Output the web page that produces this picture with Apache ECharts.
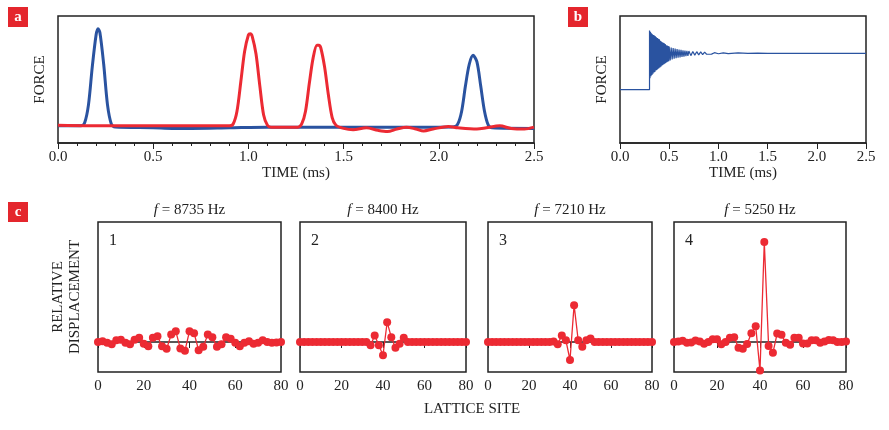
<!DOCTYPE html>
<html><head><meta charset="utf-8">
<script src="https://cdn.jsdelivr.net/npm/echarts@6/dist/echarts.min.js"></script>
<style>html,body{margin:0;padding:0;background:#fff}#c{width:889px;height:430px}</style>
</head><body><div id="c"></div>
<script>
// Panel a: force vs time (ms), arbitrary units
const blueA = [[0,13.5],[0.12,13.5],[0.14,16],[0.16,30],[0.18,60],[0.2,85],[0.21,90],[0.22,87],[0.24,62],[0.26,30],[0.28,15],[0.3,12.5],[0.5,12],[0.6,11.5],[0.7,11.5],[0.9,12],[1.1,12.5],[1.5,12.5],[2.0,12.5],[2.08,12.8],[2.1,15],[2.12,25],[2.14,45],[2.16,62],[2.18,69],[2.2,64],[2.22,45],[2.24,25],[2.26,14],[2.28,12],[2.5,11.5]];
const redA = [[0,14],[0.3,13.5],[0.9,13.5],[0.92,15],[0.94,25],[0.96,48],[0.98,72],[1.0,85],[1.01,86],[1.02,84],[1.04,70],[1.06,45],[1.08,22],[1.1,14],[1.12,12.5],[1.26,12.5],[1.28,15],[1.3,25],[1.32,47],[1.34,67],[1.36,77],[1.37,77],[1.38,75],[1.4,60],[1.42,38],[1.44,20],[1.46,14],[1.5,11.5],[1.55,10.5],[1.62,12],[1.68,10],[1.73,9],[1.78,11],[1.83,12.5],[1.88,11],[1.92,9.5],[1.97,11],[2.05,13],[2.1,12],[2.2,11],[2.25,12],[2.32,13.5],[2.38,11.5],[2.45,11],[2.5,12.5]];
// Panel b: step response
const blueB = [[0,42],[0.3,42],[0.3,88.6],[0.305,51],[0.31,87.5],[0.315,52.5],[0.32,86.5],[0.325,53.5],[0.33,85.7],[0.335,54.5],[0.34,85],[0.345,55.5],[0.35,84.6],[0.355,56],[0.36,84],[0.365,57],[0.37,83.3],[0.375,57.5],[0.38,82.6],[0.385,58.3],[0.39,82],[0.395,58.8],[0.40,81.6],[0.405,59.5],[0.41,80.5],[0.415,60],[0.42,80],[0.425,60.8],[0.43,79.3],[0.435,61.5],[0.44,79],[0.445,62],[0.45,78.6],[0.455,62.4],[0.46,78],[0.465,63],[0.47,77],[0.475,63.5],[0.48,76.8],[0.485,64],[0.49,76.4],[0.495,64.3],[0.50,76],[0.51,65],[0.52,75.2],[0.53,65.8],[0.54,74.8],[0.55,66.3],[0.56,74.3],[0.57,66.8],[0.58,74],[0.59,67.2],[0.60,73.6],[0.61,67.4],[0.62,73.3],[0.63,67.8],[0.64,73],[0.65,68],[0.66,72.8],[0.67,68.3],[0.68,72.6],[0.69,68.5],[0.70,72.4],[0.72,68.8],[0.74,72.1],[0.76,69.2],[0.78,71.9],[0.80,69.4],[0.82,71.7],[0.84,69.6],[0.86,71.5],[0.88,69.9],[0.90,71.3],[0.93,70],[0.96,71.1],[1.0,70.3],[1.05,71],[1.1,70.4],[1.2,70.9],[1.3,70.5],[1.4,70.8],[1.5,70.6],[2.5,70.6]];
// Panel c: relative displacement at even lattice sites 0..80
const sites = [0,2,4,6,8,10,12,14,16,18,20,22,24,26,28,30,32,34,36,38,40,42,44,46,48,50,52,54,56,58,60,62,64,66,68,70,72,74,76,78,80];
const mode1 = [0,0.03,-0.03,-0.08,0.06,0.08,-0.03,-0.08,0.08,0.15,-0.06,-0.15,0.15,0.2,-0.15,-0.24,0.26,0.38,-0.23,-0.31,0.38,0.31,-0.29,-0.17,0.26,0.17,-0.17,-0.08,0.17,0.11,-0.03,-0.15,-0.03,0.03,-0.06,-0.03,0.06,0,-0.03,-0.02,0];
const mode2 = [0,0,0,0,0,0,0,0,0,0,0,0,0,0,0,0,0,-0.11,0.23,-0.11,-0.46,0.69,0.17,-0.2,-0.06,0.15,0,0,0,0,0,0,0,0,0,0,0,0,0,0,0];
const mode3 = [0,0,0,0,0,0,0,0,0,0,0,0,0,0,0,0,0.02,-0.08,0.23,0.06,-0.63,1.29,0.06,-0.17,0.06,0.12,0,0,0,0,0,0,0,0,0,0,0,0,0,0,0];
const mode4 = [0,0.02,0.04,-0.03,-0.02,0.05,0.02,-0.06,0,0.1,0.1,-0.08,0,0.15,0.17,-0.2,-0.24,-0.07,0.31,0.55,-1,3.5,-0.14,-0.38,0.3,0.25,-0.03,-0.1,0.15,0.15,-0.05,-0.05,0.06,0.06,-0.03,0.02,0.07,0.06,0,0,0.02];
const modes = [mode1, mode2, mode3, mode4];
const freqs = ['8735', '8400', '7210', '5250'];
const timeTicks = [0, 2.5, 0.5];
const siteTicks = [0, 80, 20];

const FONT = 'Liberation Serif';
const BLUE = '#2a53a0', RED = '#ec2a33', INK = '#222';
const chart = echarts.init(document.getElementById('c'));
const cGrids = [[98,183],[300,166],[488,164],[674,172]];
const grids = [
  {left:58, top:16, width:476, height:127},
  {left:620, top:16, width:246, height:127}
].concat(cGrids.map(g => ({left:g[0], top:222, width:g[1], height:150})));
grids.forEach(g => {g.show = true; g.borderColor = INK; g.borderWidth = 1.5; g.backgroundColor = 'transparent';});
const lbl = {fontFamily:FONT, fontSize:15, color:INK};
function timeAxis(i, minor) {
  return {type:'value', gridIndex:i, min:timeTicks[0], max:timeTicks[1], interval:timeTicks[2],
    name:'TIME (ms)', nameLocation:'middle', nameGap:22, nameTextStyle:lbl,
    axisLine:{lineStyle:{color:INK, width:1.5}}, axisTick:{length:6, lineStyle:{color:INK}},
    minorTick:{show:minor, splitNumber:5, length:3, lineStyle:{color:INK}},
    axisLabel:Object.assign({formatter:v => v.toFixed(1), margin:7}, lbl), splitLine:{show:false}};
}
const xAxes = [timeAxis(0, true), timeAxis(1, false)];
const yAxes = [
  {type:'value', gridIndex:0, min:0, max:100, show:true, name:'FORCE', nameLocation:'middle', nameGap:10, nameTextStyle:lbl, axisLine:{show:false}, axisTick:{show:false}, axisLabel:{show:false}, splitLine:{show:false}},
  {type:'value', gridIndex:1, min:0, max:100, show:true, name:'FORCE', nameLocation:'middle', nameGap:10, nameTextStyle:lbl, axisLine:{show:false}, axisTick:{show:false}, axisLabel:{show:false}, splitLine:{show:false}}
];
const series = [
  {type:'line', xAxisIndex:0, yAxisIndex:0, data:blueA, showSymbol:false, lineStyle:{color:BLUE, width:3}, smooth:0.3},
  {type:'line', xAxisIndex:0, yAxisIndex:0, data:redA, showSymbol:false, lineStyle:{color:RED, width:3}, smooth:0.3},
  {type:'line', xAxisIndex:1, yAxisIndex:1, data:blueB, showSymbol:false, lineStyle:{color:BLUE, width:1.2}}
];
modes.forEach((m, k) => {
  const gi = k + 2;
  xAxes.push({type:'value', gridIndex:gi, min:siteTicks[0], max:siteTicks[1], interval:siteTicks[2],
    axisLine:{lineStyle:{color:INK, width:1.5}}, axisTick:{length:6, lineStyle:{color:INK}},
    axisLabel:Object.assign({margin:7}, lbl), splitLine:{show:false}});
  yAxes.push({type:'value', gridIndex:gi, min:-1.05, max:4.2, show:false, splitLine:{show:false}});
  series.push({type:'line', xAxisIndex:gi, yAxisIndex:gi, data:sites.map((s, j) => [s, m[j]]),
    symbol:'circle', symbolSize:8, itemStyle:{color:RED}, lineStyle:{color:RED, width:1.3}});
});
const graphic = [];
function badge(x, y, t) {
  graphic.push({type:'rect', shape:{x:x, y:y, width:20, height:20}, style:{fill:'#e4262d'}});
  graphic.push({type:'text', x:x+10, y:y+10, style:{text:t, fill:'#fff', font:'bold 15px ' + FONT, align:'center', verticalAlign:'middle'}});
}
badge(8, 7, 'a'); badge(568, 7, 'b'); badge(8, 202, 'c');
cGrids.forEach((g, k) => {
  graphic.push({type:'text', x:g[0] + g[1]/2, y:210, style:{text:'{i|f} = ' + freqs[k] + ' Hz', rich:{i:{fontStyle:'italic', fontFamily:FONT, fontSize:15}}, fontFamily:FONT, fontSize:15, fill:INK, align:'center', verticalAlign:'middle'}});
  graphic.push({type:'text', x:g[0] + 11, y:241, style:{text:String(k + 1), fontFamily:FONT, fontSize:16, fill:INK, verticalAlign:'middle'}});
});
graphic.push({type:'text', x:67, y:297, rotation:Math.PI/2, style:{text:'RELATIVE\nDISPLACEMENT', fontFamily:FONT, fontSize:15, lineHeight:17, fill:INK, align:'center', verticalAlign:'middle'}});
graphic.push({type:'text', x:472, y:409, style:{text:'LATTICE SITE', fontFamily:FONT, fontSize:15, fill:INK, align:'center', verticalAlign:'middle'}});
chart.setOption({animation:false, grid:grids, xAxis:xAxes, yAxis:yAxes, series:series, graphic:graphic});
</script></body></html>
